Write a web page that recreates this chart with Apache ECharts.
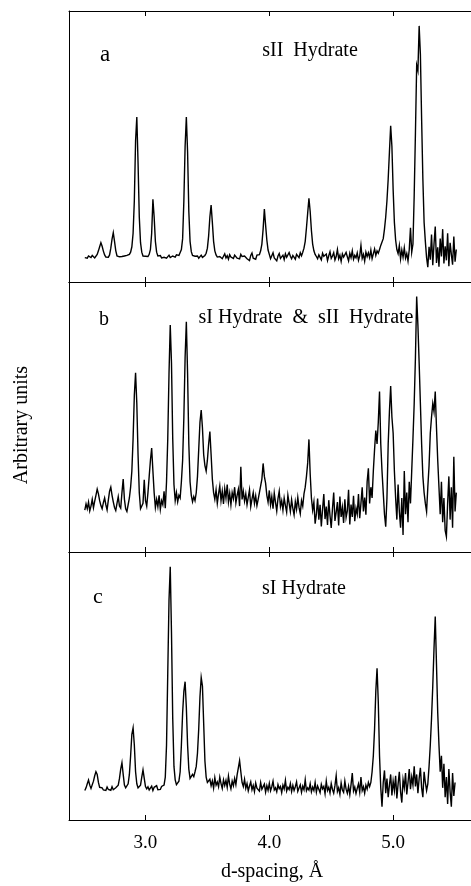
<!DOCTYPE html>
<html>
<head>
<meta charset="utf-8">
<title>Neutron diffraction patterns of gas hydrates</title>
<script src="https://cdn.jsdelivr.net/npm/echarts@6/dist/echarts.min.js"></script>
<style>
  html, body { margin: 0; padding: 0; background: #fff; }
  #chart { width: 471px; height: 886px; }
</style>
</head>
<body>
<div id="chart"></div>
<script>
// d-spacing sampling of every pattern (Å)
const dStart = 2.51;
const dStep = 0.01;

// Panel a: sII hydrate intensity (arbitrary units, 0–100 per panel)
const sIIHydrate = [
  9.0, 9.4, 8.8, 9.6, 9.2, 9.0, 9.8, 9.3, 8.9, 9.5,
  10.2, 11.5, 13.0, 14.5, 13.2, 11.4, 10.0, 9.2, 8.8, 9.1,
  10.0, 12.5, 15.8, 18.2, 15.0, 11.6, 9.6, 9.0, 9.3, 8.9,
  9.4, 9.1, 9.6, 9.2, 9.8, 9.5, 10.2, 11.0, 13.0, 18.0,
  30.0, 52.0, 60.9, 44.0, 24.0, 14.5, 11.0, 9.6, 9.2, 9.5,
  9.0, 9.4, 10.2, 12.0, 18.0, 30.5, 24.0, 15.0, 11.0, 9.6,
  9.2, 9.8, 8.9, 9.5, 9.1, 9.7, 8.8, 9.4, 9.9, 9.0,
  9.3, 9.6, 8.9, 9.2, 10.0, 9.4, 9.8, 10.5, 12.0, 16.0,
  30.0, 50.0, 60.9, 48.0, 26.0, 15.0, 11.2, 9.8, 9.1, 9.5,
  9.0, 9.6, 8.8, 9.3, 9.9, 9.1, 9.5, 9.8, 10.6, 12.5,
  17.0, 24.0, 28.4, 22.0, 15.0, 11.5, 10.0, 9.2, 8.8, 9.4,
  9.8, 8.6, 9.5, 10.4, 8.9, 9.7, 8.4, 10.1, 9.2, 9.0,
  8.7, 9.9, 10.6, 8.8, 9.3, 8.5, 10.2, 9.4, 8.9, 9.6,
  10.3, 8.6, 9.1, 7.9, 9.8, 10.7, 8.8, 9.5, 8.4, 9.9,
  9.2, 10.1, 11.5, 14.0, 19.5, 26.9, 21.0, 15.5, 11.8, 10.2,
  8.6, 9.7, 10.8, 8.9, 9.4, 7.8, 9.6, 10.5, 8.7, 9.3,
  9.9, 8.3, 10.4, 9.1, 8.8, 10.9, 9.5, 8.6, 9.8, 9.2,
  8.4, 10.2, 9.6, 9.0, 10.8, 9.7, 11.0, 12.5, 15.0, 20.0,
  25.5, 30.9, 26.0, 19.0, 14.0, 11.5, 10.2, 9.4, 8.6, 10.0,
  9.1, 8.2, 10.6, 9.5, 8.8, 10.3, 7.9, 9.7, 11.2, 8.7,
  9.6, 10.8, 8.1, 9.4, 12.0, 8.6, 9.9, 7.6, 10.4, 9.2,
  8.5, 10.9, 9.3, 7.8, 10.6, 9.0, 11.5, 8.4, 9.8, 8.9,
  10.7, 8.0, 9.6, 13.5, 8.7, 10.2, 7.7, 11.0, 9.4, 10.8,
  9.0, 11.8, 8.6, 10.4, 12.2, 9.8, 11.5, 10.6, 12.0, 13.5,
  14.0, 16.0, 19.5, 24.0, 30.0, 38.0, 48.0, 57.6, 50.0, 34.0,
  22.0, 15.5, 12.0, 10.5, 13.5, 8.5, 11.8, 9.2, 12.6, 8.8,
  10.5, 7.8, 11.9, 20.0, 11.0, 14.0, 32.0, 55.0, 80.0, 78.0,
  94.5, 84.0, 60.0, 38.0, 22.0, 15.0, 9.0, 5.5, 13.0, 8.2,
  17.5, 6.2, 14.0, 20.5, 7.0, 12.8, 5.6, 16.0, 9.4, 19.5,
  6.8, 13.2, 8.0, 18.0, 5.8, 14.5, 10.2, 6.4, 16.8, 7.5,
  12.0
];

// Panel b: mixed sI + sII hydrate
const mixedHydrate = [
  15.5, 17.8, 16.0, 18.5, 15.2, 17.0, 19.5, 16.4, 18.8, 21.0,
  23.3, 21.5, 19.0, 17.2, 16.0, 18.3, 20.0, 17.5, 15.6, 19.2,
  22.5, 24.0, 21.0, 18.6, 16.5, 15.4, 18.0, 20.5, 17.0, 16.2,
  22.0, 27.0, 19.5, 16.0, 15.0, 17.5, 20.0, 24.0, 30.0, 42.0,
  58.0, 66.4, 55.0, 36.0, 22.0, 16.0, 15.5, 18.0, 26.7, 19.0,
  17.0, 22.0, 28.0, 34.0, 38.5, 30.0, 22.0, 16.5, 19.5, 16.8,
  21.0, 15.8, 19.0, 17.5, 22.5, 16.2, 26.0, 42.0, 66.0, 84.1,
  70.0, 42.0, 25.0, 19.0, 22.0, 18.6, 21.0, 20.0, 26.0, 34.0,
  50.0, 72.0, 85.3, 66.0, 40.0, 26.0, 21.0, 18.6, 20.5, 19.0,
  22.0, 28.0, 38.0, 48.0, 52.6, 46.0, 36.0, 32.0, 30.0, 34.0,
  40.0, 44.6, 36.0, 27.0, 22.0, 19.5, 23.0, 18.0, 21.5, 24.5,
  19.0, 22.5, 17.8, 23.5, 20.0, 25.0, 18.5, 21.8, 17.5, 22.0,
  19.8, 24.0, 18.2, 21.0, 23.2, 17.0, 31.6, 19.5, 22.5, 18.8,
  21.5, 17.5, 20.2, 23.0, 16.8, 19.6, 22.0, 18.0, 20.8, 17.2,
  19.5, 22.0, 24.5, 27.0, 32.8, 28.0, 25.5, 21.0, 18.5, 22.8,
  17.5, 20.5, 16.0, 21.8, 18.4, 15.2, 19.8, 22.5, 16.8, 19.0,
  15.5, 20.0, 17.2, 14.8, 21.0, 18.0, 15.0, 19.4, 16.2, 13.8,
  18.6, 15.8, 20.2, 16.5, 14.2, 19.0, 17.0, 21.5, 24.0, 28.0,
  33.0, 41.7, 29.0, 20.0, 15.5, 18.5, 10.5, 14.0, 19.8, 12.0,
  17.5, 9.5, 15.8, 21.5, 12.2, 16.8, 10.0, 19.2, 13.5, 8.9,
  16.0, 22.0, 11.5, 14.8, 18.5, 9.8, 20.5, 13.0, 16.5, 10.8,
  19.5, 12.8, 15.2, 23.0, 10.2, 17.6, 13.0, 20.8, 11.4, 16.2,
  14.0, 21.5, 12.5, 18.0, 24.0, 15.0, 20.2, 13.8, 26.0, 31.0,
  18.0, 24.0, 20.0, 30.0, 38.0, 45.0, 40.0, 48.0, 59.4, 40.0,
  30.0, 22.0, 14.0, 9.4, 20.0, 40.0, 52.0, 61.5, 50.0, 44.0,
  30.0, 20.0, 12.0, 25.0, 15.0, 9.0, 20.0, 6.3, 30.0, 14.0,
  22.0, 11.0, 26.0, 18.0, 30.0, 42.0, 55.0, 72.0, 94.6, 84.0,
  70.0, 55.0, 40.0, 28.0, 22.0, 18.0, 15.0, 24.0, 32.0, 44.0,
  50.0, 55.0, 52.0, 59.4, 46.0, 34.0, 24.0, 14.0, 26.0, 11.0,
  20.0, 8.0, 5.7, 18.0, 28.0, 12.0, 24.0, 9.0, 35.3, 15.0,
  22.0
];

// Panel c: sI hydrate
const sIHydrate = [
  11.0, 12.0, 13.5, 14.9, 13.0, 11.8, 12.5, 14.5, 16.5, 18.0,
  17.0, 14.0, 12.2, 11.5, 12.0, 11.2, 11.8, 11.0, 12.3, 11.4,
  11.9, 11.1, 12.4, 11.3, 11.0, 12.0, 11.5, 13.0, 15.5, 19.0,
  21.4, 17.0, 13.0, 12.0, 11.5, 13.5, 17.0, 24.0, 32.0, 34.4,
  28.0, 18.0, 13.5, 12.0, 11.5, 13.0, 16.0, 18.7, 15.5, 12.5,
  11.6, 12.4, 11.2, 11.8, 12.6, 11.0, 12.2, 11.5, 12.8, 11.3,
  12.0, 11.4, 12.5, 11.8, 13.0, 16.0, 28.0, 55.0, 82.0, 94.5,
  70.0, 38.0, 20.0, 15.0, 13.2, 13.0, 14.5, 18.0, 28.0, 40.0,
  48.0, 51.6, 42.0, 28.0, 19.0, 15.5, 16.2, 17.0, 16.2, 18.0,
  20.0, 25.0, 34.0, 46.0, 53.2, 50.0, 36.0, 22.0, 16.0, 14.0,
  13.5, 15.2, 12.8, 14.6, 11.9, 15.8, 13.0, 14.2, 12.4, 16.0,
  13.6, 11.8, 15.0, 12.9, 14.8, 12.2, 16.4, 13.4, 11.6, 14.5,
  12.8, 15.5, 13.2, 16.8, 17.5, 22.1, 18.0, 14.0, 12.5, 15.2,
  11.8, 13.6, 10.9, 12.7, 14.2, 11.3, 12.9, 10.6, 13.8, 11.9,
  12.6, 10.8, 14.0, 11.5, 12.2, 13.4, 10.4, 12.8, 11.1, 13.7,
  10.9, 12.4, 14.5, 11.2, 12.0, 10.5, 13.2, 11.7, 12.5, 10.2,
  13.0, 11.6, 14.8, 10.8, 12.2, 11.4, 13.6, 10.6, 12.9, 11.0,
  12.4, 14.2, 10.7, 11.9, 13.1, 10.3, 12.6, 11.3, 15.0, 10.9,
  12.0, 11.2, 13.5, 10.5, 12.3, 11.0, 14.0, 10.4, 12.7, 11.5,
  10.2, 13.3, 11.6, 12.5, 9.8, 14.5, 11.0, 12.2, 10.1, 13.6,
  11.4, 10.0, 12.8, 16.5, 10.6, 12.0, 9.6, 13.8, 11.2, 10.3,
  14.5, 11.5, 10.0, 12.6, 9.5, 13.2, 17.5, 10.8, 12.3, 9.9,
  11.8, 13.5, 10.4, 16.0, 11.0, 12.4, 10.0, 13.0, 11.5, 14.0,
  12.5, 14.0, 18.0, 24.0, 34.0, 48.0, 56.6, 44.0, 24.0, 12.0,
  5.0, 14.0, 18.5, 10.0, 15.5, 8.5, 13.0, 17.0, 9.2, 14.5,
  11.0, 16.5, 8.0, 13.5, 18.0, 10.5, 6.5, 15.0, 12.0, 17.5,
  9.5, 14.0, 19.0, 11.5, 16.0, 13.0, 20.0, 12.5, 17.0, 10.0,
  15.5, 19.5, 12.0, 8.5, 18.0, 14.0, 11.0, 13.5, 20.0, 28.0,
  38.0, 50.0, 64.0, 75.9, 58.0, 40.0, 28.0, 18.0, 24.0, 12.0,
  21.0, 8.5, 16.0, 6.0, 19.0, 10.5, 5.0, 17.5, 9.0, 14.0
];

const tickValues = [3.0, 4.0, 5.0];
const panelLetters = ['a', 'b', 'c'];
const panelTitles = ['sII  Hydrate', 'sI Hydrate  &  sII  Hydrate', 'sI Hydrate'];
const xTitle = 'd-spacing, Å';
const yTitle = 'Arbitrary units';

const SERIF = '"Liberation Serif", "Times New Roman", "DejaVu Serif", serif';

function toPairs(values) {
  return values.map((v, i) => [+(dStart + i * dStep).toFixed(2), v]);
}

const panels = [
  { top: 11, height: 271, data: sIIHydrate },
  { top: 282, height: 270, data: mixedHydrate },
  { top: 552, height: 268, data: sIHydrate }
];

const X_MIN = 2.3824, X_MAX = 5.6287;

const grid = [], xAxis = [], yAxis = [], series = [];
panels.forEach((p, i) => {
  grid.push({ left: 69, top: p.top, width: 410, height: p.height, containLabel: false });
  const isLast = i === panels.length - 1;
  const base = {
    type: 'value', gridIndex: i, min: X_MIN, max: X_MAX,
    splitLine: { show: false },
    axisLine: { show: true, onZero: false, lineStyle: { color: '#000', width: 1 } },
    axisTick: { show: true, inside: true, length: 5, customValues: tickValues,
                lineStyle: { color: '#000', width: 1 } }
  };
  xAxis.push(Object.assign({}, base, {
    position: 'bottom',
    axisLabel: isLast ? {
      show: true, customValues: tickValues, margin: 14,
      fontFamily: SERIF, fontSize: 19, color: '#000',
      formatter: v => v.toFixed(1)
    } : { show: false }
  }));
  xAxis.push(Object.assign({}, base, { position: 'top', axisLabel: { show: false } }));
  yAxis.push({
    type: 'value', gridIndex: i, min: 0, max: 100,
    splitLine: { show: false },
    axisLine: { show: true, lineStyle: { color: '#000', width: 1 } },
    axisTick: { show: false }, axisLabel: { show: false }
  });
  series.push({
    type: 'line', xAxisIndex: 2 * i, yAxisIndex: i,
    data: toPairs(p.data), showSymbol: false, symbol: 'none',
    sampling: null, clip: true,
    lineStyle: { color: '#000', width: 1.4, join: 'miter' }
  });
});

function label(text, x, y, size, extra) {
  return Object.assign({
    type: 'text', x: x, y: y,
    style: { text: text, font: size + 'px ' + SERIF, fill: '#000',
             align: 'center', verticalAlign: 'middle',
             textAlign: 'center', textVerticalAlign: 'middle' }
  }, extra || {});
}

const graphic = [
  label(panelLetters[0], 105, 55, 23),
  label(panelTitles[0], 310, 51, 20),
  label(panelLetters[1], 104, 320, 20),
  label(panelTitles[1], 306, 318, 20),
  label(panelLetters[2], 98, 597, 22),
  label(panelTitles[2], 304, 589, 20),
  label(xTitle, 272, 872, 20),
  label(yTitle, 22, 425, 20, { rotation: Math.PI / 2 })
];

const chart = echarts.init(document.getElementById('chart'), null, { renderer: 'canvas' });
chart.setOption({
  backgroundColor: '#fff',
  animation: false,
  grid: grid, xAxis: xAxis, yAxis: yAxis, series: series,
  graphic: graphic
});
</script>
</body>
</html>
